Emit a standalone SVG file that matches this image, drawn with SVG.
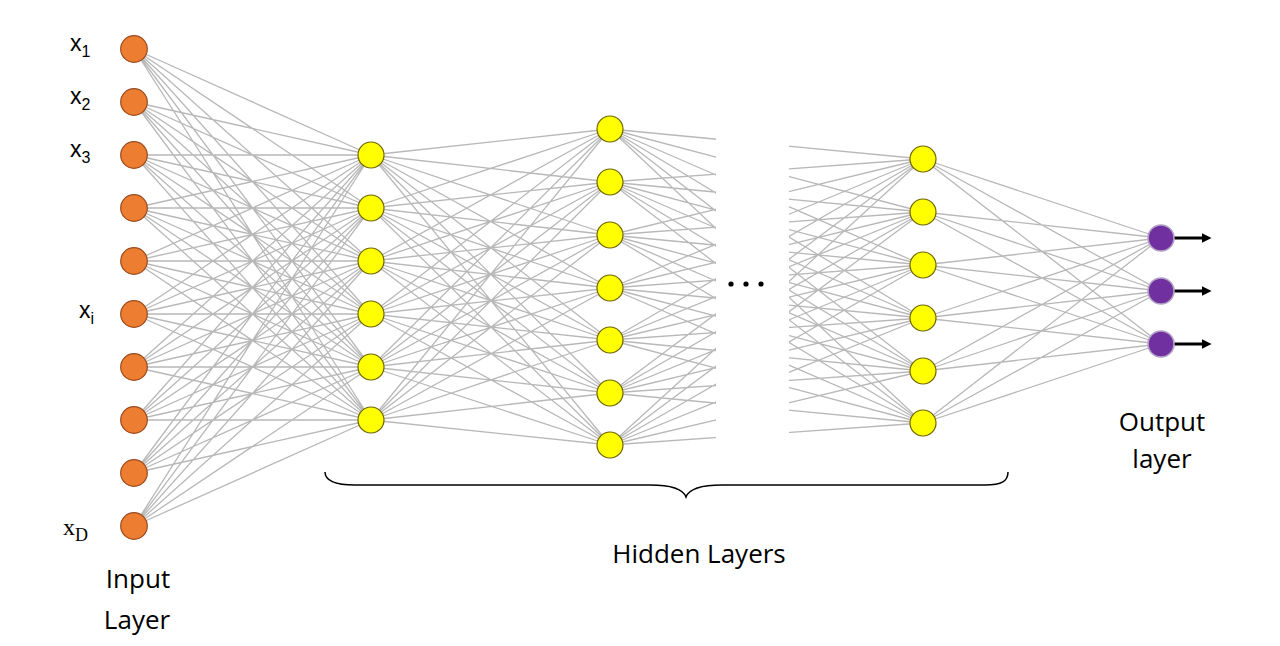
<svg xmlns="http://www.w3.org/2000/svg" width="1280" height="646" viewBox="0 0 1280 646">
<defs>
<style>
.edge{fill:none;stroke:#b8b8b8;stroke-width:1.3}
.in{fill:#ED7D31;stroke:#9A4A1C;stroke-width:1.2}
.hid{fill:#FFFF00;stroke:#6E6400;stroke-width:1.2}
.out{fill:#7030A0;stroke:#B3A3C6;stroke-width:1.6}
.lbl{font-family:"Liberation Sans",Arial,sans-serif;fill:#000}
.cap{font-family:"Open Sans","Liberation Sans",Arial,sans-serif;font-size:26px;fill:#000;text-anchor:middle}
.ser{font-family:"Liberation Serif","Times New Roman",serif;fill:#000}
.arr{stroke:#000;stroke-width:3;fill:none}
</style>
<marker id="ah" viewBox="0 0 10 10" refX="0" refY="5" markerWidth="3.4" markerHeight="3.2" orient="auto" markerUnits="strokeWidth">
<path d="M0 0L10 5L0 10Z" fill="#000"/>
</marker>
</defs>
<rect width="1280" height="646" fill="#fff"/>
<g id="connectors">
<path class="edge" d="M134 49L371 155M134 49L371 208M134 49L371 261M134 49L371 314M134 49L371 367M134 49L371 420
M134 102L371 155M134 102L371 208M134 102L371 261M134 102L371 314M134 102L371 367M134 102L371 420
M134 155L371 155M134 155L371 208M134 155L371 261M134 155L371 314M134 155L371 367M134 155L371 420
M134 208L371 155M134 208L371 208M134 208L371 261M134 208L371 314M134 208L371 367M134 208L371 420
M134 261L371 155M134 261L371 208M134 261L371 261M134 261L371 314M134 261L371 367M134 261L371 420
M134 314L371 155M134 314L371 208M134 314L371 261M134 314L371 314M134 314L371 367M134 314L371 420
M134 367L371 155M134 367L371 208M134 367L371 261M134 367L371 314M134 367L371 367M134 367L371 420
M134 420L371 155M134 420L371 208M134 420L371 261M134 420L371 314M134 420L371 367M134 420L371 420
M134 473L371 155M134 473L371 208M134 473L371 261M134 473L371 314M134 473L371 367M134 473L371 420
M134 526L371 155M134 526L371 208M134 526L371 261M134 526L371 314M134 526L371 367M134 526L371 420"/>
<path class="edge" d="M371 155L610 129M371 155L610 182M371 155L610 235M371 155L610 288M371 155L610 340M371 155L610 393M371 155L610 445
M371 208L610 129M371 208L610 182M371 208L610 235M371 208L610 288M371 208L610 340M371 208L610 393M371 208L610 445
M371 261L610 129M371 261L610 182M371 261L610 235M371 261L610 288M371 261L610 340M371 261L610 393M371 261L610 445
M371 314L610 129M371 314L610 182M371 314L610 235M371 314L610 288M371 314L610 340M371 314L610 393M371 314L610 445
M371 367L610 129M371 367L610 182M371 367L610 235M371 367L610 288M371 367L610 340M371 367L610 393M371 367L610 445
M371 420L610 129M371 420L610 182M371 420L610 235M371 420L610 288M371 420L610 340M371 420L610 393M371 420L610 445"/>
<path class="edge" d="M610 129L923 159M610 129L923 212M610 129L923 265M610 129L923 318M610 129L923 371M610 129L923 423
M610 182L923 159M610 182L923 212M610 182L923 265M610 182L923 318M610 182L923 371M610 182L923 423
M610 235L923 159M610 235L923 212M610 235L923 265M610 235L923 318M610 235L923 371M610 235L923 423
M610 288L923 159M610 288L923 212M610 288L923 265M610 288L923 318M610 288L923 371M610 288L923 423
M610 340L923 159M610 340L923 212M610 340L923 265M610 340L923 318M610 340L923 371M610 340L923 423
M610 393L923 159M610 393L923 212M610 393L923 265M610 393L923 318M610 393L923 371M610 393L923 423
M610 445L923 159M610 445L923 212M610 445L923 265M610 445L923 318M610 445L923 371M610 445L923 423"/>
<path class="edge" d="M923 159L1161 238M923 159L1161 291M923 159L1161 344
M923 212L1161 238M923 212L1161 291M923 212L1161 344
M923 265L1161 238M923 265L1161 291M923 265L1161 344
M923 318L1161 238M923 318L1161 291M923 318L1161 344
M923 371L1161 238M923 371L1161 291M923 371L1161 344
M923 423L1161 238M923 423L1161 291M923 423L1161 344"/>
<rect x="716" y="100" width="73" height="370" fill="#fff"/>
<line class="arr" x1="1174" y1="238" x2="1202" y2="238" marker-end="url(#ah)"/>
<line class="arr" x1="1174" y1="291" x2="1202" y2="291" marker-end="url(#ah)"/>
<line class="arr" x1="1174" y1="344" x2="1202" y2="344" marker-end="url(#ah)"/>
</g>
<g id="ellipsis">
<circle cx="731" cy="284" r="2.6" fill="#000"/>
<circle cx="746" cy="284" r="2.6" fill="#000"/>
<circle cx="761" cy="284" r="2.6" fill="#000"/>
</g>
<g id="input-layer">
<circle class="in" cx="134" cy="49" r="13.3"/>
<circle class="in" cx="134" cy="102" r="13.3"/>
<circle class="in" cx="134" cy="155" r="13.3"/>
<circle class="in" cx="134" cy="208" r="13.3"/>
<circle class="in" cx="134" cy="261" r="13.3"/>
<circle class="in" cx="134" cy="314" r="13.3"/>
<circle class="in" cx="134" cy="367" r="13.3"/>
<circle class="in" cx="134" cy="420" r="13.3"/>
<circle class="in" cx="134" cy="473" r="13.3"/>
<circle class="in" cx="134" cy="526" r="13.3"/>
</g>
<g id="hidden-layer-1">
<circle class="hid" cx="371" cy="155" r="13"/>
<circle class="hid" cx="371" cy="208" r="13"/>
<circle class="hid" cx="371" cy="261" r="13"/>
<circle class="hid" cx="371" cy="314" r="13"/>
<circle class="hid" cx="371" cy="367" r="13"/>
<circle class="hid" cx="371" cy="420" r="13"/>
</g>
<g id="hidden-layer-2">
<circle class="hid" cx="610" cy="129" r="13"/>
<circle class="hid" cx="610" cy="182" r="13"/>
<circle class="hid" cx="610" cy="235" r="13"/>
<circle class="hid" cx="610" cy="288" r="13"/>
<circle class="hid" cx="610" cy="340" r="13"/>
<circle class="hid" cx="610" cy="393" r="13"/>
<circle class="hid" cx="610" cy="445" r="13"/>
</g>
<g id="hidden-layer-3">
<circle class="hid" cx="923" cy="159" r="13"/>
<circle class="hid" cx="923" cy="212" r="13"/>
<circle class="hid" cx="923" cy="265" r="13"/>
<circle class="hid" cx="923" cy="318" r="13"/>
<circle class="hid" cx="923" cy="371" r="13"/>
<circle class="hid" cx="923" cy="423" r="13"/>
</g>
<g id="output-layer">
<circle class="out" cx="1161" cy="238" r="13"/>
<circle class="out" cx="1161" cy="291" r="13"/>
<circle class="out" cx="1161" cy="344" r="13"/>
</g>
<g id="brace">
<path d="M325 472C325 481 335 485 355 485L650 485C670 485 683 489 686 497C689 489 702 485 722 485L985 485C1002 485 1008 481 1008 472" fill="none" stroke="#000" stroke-width="1.5"/>
</g>
<g id="labels">
<text class="lbl" x="70" y="51" font-size="23">x<tspan font-size="16" dy="6">1</tspan></text>
<text class="lbl" x="70" y="104" font-size="23">x<tspan font-size="16" dy="6">2</tspan></text>
<text class="lbl" x="70" y="157" font-size="23">x<tspan font-size="16" dy="6">3</tspan></text>
<text class="lbl" x="79" y="318" font-size="23">x<tspan font-size="16" dy="6">i</tspan></text>
<text class="ser" x="63" y="535" font-size="24">x<tspan font-size="18" dy="6">D</tspan></text>
<text class="cap" x="138" y="588">Input</text>
<text class="cap" x="137" y="629">Layer</text>
<text class="cap" x="699" y="563">Hidden Layers</text>
<text class="cap" x="1162" y="431">Output</text>
<text class="cap" x="1162" y="468">layer</text>
</g>
</svg>
